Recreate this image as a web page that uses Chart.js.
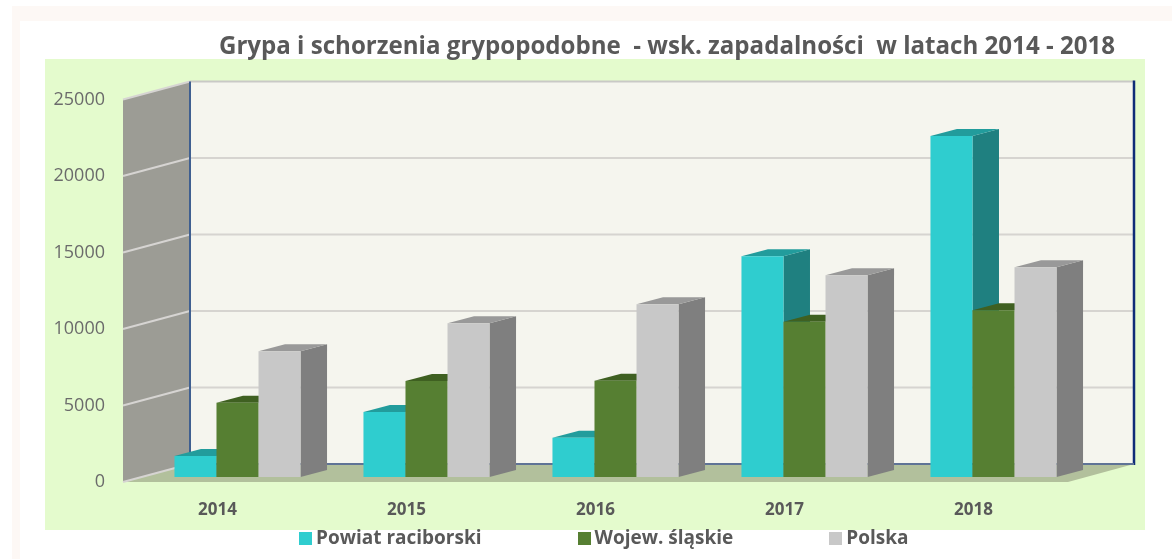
<!DOCTYPE html>
<html>
<head>
<meta charset="utf-8">
<style>html,body{margin:0;padding:0;background:#fff}#w{width:1172px;height:559px}</style>
<script src="https://cdn.jsdelivr.net/npm/chart.js@4"></script>
</head>
<body>
<div id="w"><canvas id="c" width="1172" height="559"></canvas></div>
<script>
const categories = ['2014', '2015', '2016', '2017', '2018'];
const powiat = [1370, 4240, 2565, 14425, 22280];
const slaskie = [4850, 6270, 6290, 10140, 10900];
const polska = [8220, 10050, 11290, 13185, 13700];
const seriesNames = ['Powiat raciborski', 'Wojew. śląskie', 'Polska'];
const titleText = 'Grypa i schorzenia grypopodobne  - wsk. zapadalności  w latach 2014 - 2018';

const FONT = '"Open Sans", sans-serif';
const TEXT = '#595959';
const shades = [
  {front:'#2fcdcf', side:'#1f8080', top:'#229c9c'},
  {front:'#567f32', side:'#567f32', top:'#3f6021'},
  {front:'#c8c8c8', side:'#7f7f7f', top:'#999999'}
];
const WALL = {dx:67, dy:18};      // depth of the floor/side wall
const BAR = {ox:20, oy:-5, dx:26.5, dy:7}; // bar offset in the box and bar depth
const BACK_RIGHT = 1134;
const LEGEND_GAP = 101.5;

function poly(ctx, pts, fill){
  ctx.beginPath();
  pts.forEach((p,i)=> i ? ctx.lineTo(p[0],p[1]) : ctx.moveTo(p[0],p[1]));
  ctx.closePath();
  ctx.fillStyle = fill;
  ctx.fill();
}
function line(ctx, a, b, color, w){
  ctx.beginPath();
  ctx.moveTo(a[0],a[1]); ctx.lineTo(b[0],b[1]);
  ctx.strokeStyle = color; ctx.lineWidth = w; ctx.stroke();
}
function swatch(color){
  const c = document.createElement('canvas');
  c.width = 13; c.height = 13;
  const g = c.getContext('2d');
  g.fillStyle = color; g.fillRect(0,0,13,13);
  return c;
}

const box3d = {
  id:'box3d',
  afterLayout(chart){
    const t = chart.titleBlock;
    t.left = 167; t.right = 1167;
    const L = chart.legend;
    L.options.labels.padding = LEGEND_GAP;
    L.left = 304.5 - LEGEND_GAP; L.right = 1172; L.top = 529 - LEGEND_GAP;
  },
  beforeDraw(chart){
    const ctx = chart.ctx;
    ctx.save();
    ctx.fillStyle = '#ffffff'; ctx.fillRect(0,0,1172,559);
    ctx.fillStyle = '#fdf8f5'; ctx.fillRect(12,6,1160,553);
    ctx.fillStyle = '#ffffff'; ctx.fillRect(20,21,1152,538);
    ctx.fillStyle = '#e4fbcd'; ctx.fillRect(45,59,1100,471);
    ctx.restore();
  },
  beforeDatasetsDraw(chart){
    const ctx = chart.ctx, y = chart.scales.y, a = chart.chartArea;
    const l = a.left, r = a.right, top = y.getPixelForValue(y.max), bot = y.getPixelForValue(0);
    const bl = l + WALL.dx, bt = top - WALL.dy, bb = bot - WALL.dy;
    ctx.save();
    poly(ctx, [[bl,bt],[BACK_RIGHT,bt],[BACK_RIGHT,bb],[bl,bb]], '#f5f5ee');
    poly(ctx, [[l,top],[bl,bt],[bl,bb],[l,bot]], '#9c9c95');
    poly(ctx, [[l,bot],[bl,bb],[BACK_RIGHT,bb],[r,bot]], '#b2c09c');
    y.ticks.forEach(t => {
      const p = y.getPixelForValue(t.value);
      line(ctx, [l,p], [bl,p-WALL.dy], '#d6d4d2', 2);
      if (t.value > 0) line(ctx, [bl,p-WALL.dy], [BACK_RIGHT,p-WALL.dy], t.value===y.max ? '#c9c9c6' : '#d6d4d0', 2);
    });
    line(ctx, [bl,bt], [bl,bb], '#3f5f90', 2);
    line(ctx, [BACK_RIGHT,bt-1], [BACK_RIGHT,bb+1], '#0f2c78', 2.5);
    line(ctx, [bl,bb], [BACK_RIGHT,bb], '#5f7396', 2);
    ctx.translate(BAR.ox, BAR.oy);
    // Series are painted left to right so each front face covers its neighbour's side.
    chart.data.datasets.forEach((d, i) => {
      const meta = chart.getDatasetMeta(i), s = shades[i];
      meta.data.forEach(b => {
        const p = b.getProps(['x','y','base','width'], true);
        const x0 = p.x - p.width/2, x1 = p.x + p.width/2;
        poly(ctx, [[x1,p.y],[x1+BAR.dx,p.y-BAR.dy],[x1+BAR.dx,p.base-BAR.dy],[x1,p.base]], s.side);
        poly(ctx, [[x0,p.y],[x0+BAR.dx,p.y-BAR.dy],[x1+BAR.dx,p.y-BAR.dy],[x1,p.y]], s.top);
      });
      meta.controller.draw();
    });
    ctx.restore();
    return false;
  }
};

new Chart(document.getElementById('c'), {
  type:'bar',
  data:{
    labels: categories,
    datasets:[
      {label:seriesNames[0], data:powiat,  backgroundColor:shades[0].front},
      {label:seriesNames[1], data:slaskie, backgroundColor:shades[1].front},
      {label:seriesNames[2], data:polska,  backgroundColor:shades[2].front}
    ]
  },
  plugins:[box3d],
  options:{
    responsive:false,
    animation:false,
    barPercentage:1,
    categoryPercentage:0.667,
    layout:{padding:{left:45, right:104, top:33, bottom:0}},
    plugins:{
      tooltip:{enabled:false},
      title:{
        display:true, text:titleText, color:TEXT,
        font:{family:FONT, size:24.1, weight:'bold'},
        padding:{top:0, bottom:37.5}
      },
      legend:{
        display:true, position:'bottom', align:'start',
        labels:{
          usePointStyle:true, pointStyleWidth:2, boxHeight:13, padding:4, color:TEXT,
          font:{family:FONT, size:19, weight:'bold'},
          generateLabels: chart => chart.data.datasets.map((d,i) => ({
            text:d.label, fillStyle:d.backgroundColor, strokeStyle:d.backgroundColor,
            lineWidth:0, pointStyle:swatch(d.backgroundColor), datasetIndex:i,
            hidden:false, fontColor:TEXT
          }))
        }
      }
    },
    scales:{
      x:{
        grid:{display:false}, border:{display:false},
        ticks:{color:TEXT, padding:10, font:{family:FONT, size:17, weight:'bold'}},
        afterFit(s){ s.height = 44; }
      },
      y:{
        min:0, max:25000,
        grid:{display:false}, border:{display:false},
        ticks:{stepSize:5000, color:'#6b6b6b', padding:10, font:{family:FONT, size:18},
          callback:v => String(v)},
        afterFit(s){ s.width = 78; }
      }
    }
  }
});
</script>
</body>
</html>
